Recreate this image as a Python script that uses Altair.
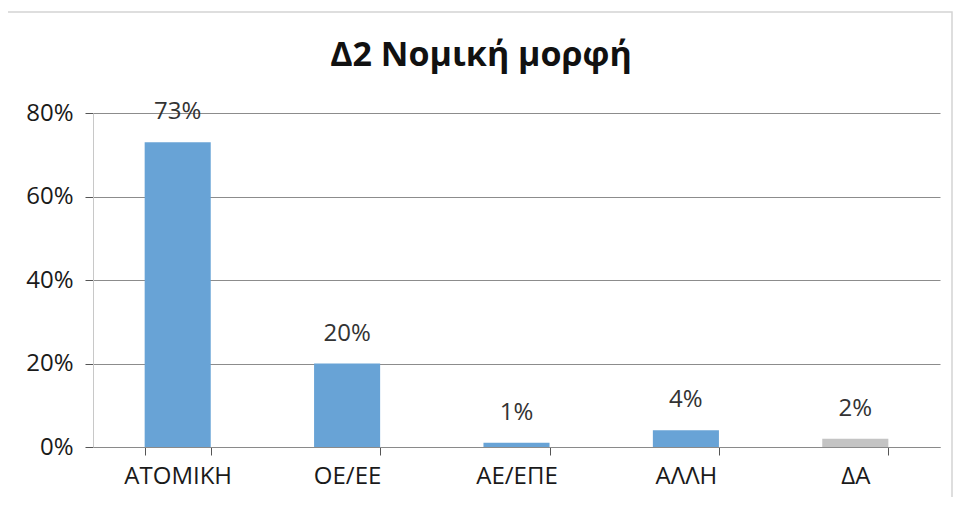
import altair as alt
import pandas as pd

categories = ["ΑΤΟΜΙΚΗ", "ΟΕ/ΕΕ", "ΑΕ/ΕΠΕ", "ΑΛΛΗ", "ΔΑ"]
values = [0.73, 0.20, 0.01, 0.04, 0.02]
labels = ["73%", "20%", "1%", "4%", "2%"]
groups = ["main", "main", "main", "main", "na"]
title_text = "Δ2 Νομική μορφή"

df = pd.DataFrame({"cat": categories, "val": values, "lab": labels, "grp": groups})

FONT = "Open Sans"

x = alt.X("cat:N", sort=categories, title=None,
          scale=alt.Scale(paddingInner=0.61, paddingOuter=0.305),
          axis=alt.Axis(labelAngle=0, labelFontSize=24, labelColor="#1a1a1a", labelFont=FONT,
                        labelPadding=9, tickSize=8, tickColor="#555555", domainColor="#8a8a8a",
                        bandPosition=0, tickBand="extent", grid=False))
y = alt.Y("val:Q", title=None,
          scale=alt.Scale(domain=[0, 0.8], nice=False),
          axis=alt.Axis(values=[0, 0.2, 0.4, 0.6, 0.8], format=".0%", labelFontSize=24,
                        labelColor="#1a1a1a", labelFont=FONT, labelPadding=12, tickSize=8,
                        tickColor="#555555", domainColor="#c8c8c8", gridColor="#8c8c8c",
                        gridWidth=1))

bars = alt.Chart(df).mark_bar().encode(
    x=x, y=y,
    color=alt.Color("grp:N", scale=alt.Scale(domain=["main", "na"], range=["#68a3d6", "#c4c4c4"]), legend=None),
)
text = alt.Chart(df).mark_text(dy=-30, fontSize=24, color="#333333", font=FONT).encode(
    x=alt.X("cat:N", sort=categories), y="val:Q", text="lab:N")

border = alt.Chart(df.head(1)).mark_rect(fill=None, stroke="#d4d4d4", strokeWidth=1.5).encode(
    x=alt.value(-86), x2=alt.value(859), y=alt.value(-101), y2=alt.value(400))

title = alt.Chart(df.head(1)).mark_text(
    font=FONT, fontSize=34, fontWeight="bold", color="#111111", align="center", baseline="middle"
).encode(x=alt.value(388), y=alt.value(-57), text=alt.value(title_text))

chart = (border + bars + text + title).properties(
    width=847, height=334,
    autosize=alt.AutoSizeParams(type="none"),
    padding={"left": 85, "top": 105, "right": 14, "bottom": 50},
).configure(background="white").configure_view(stroke=None)

chart.save("out.html", embed_options={"renderer": "svg", "actions": False})
